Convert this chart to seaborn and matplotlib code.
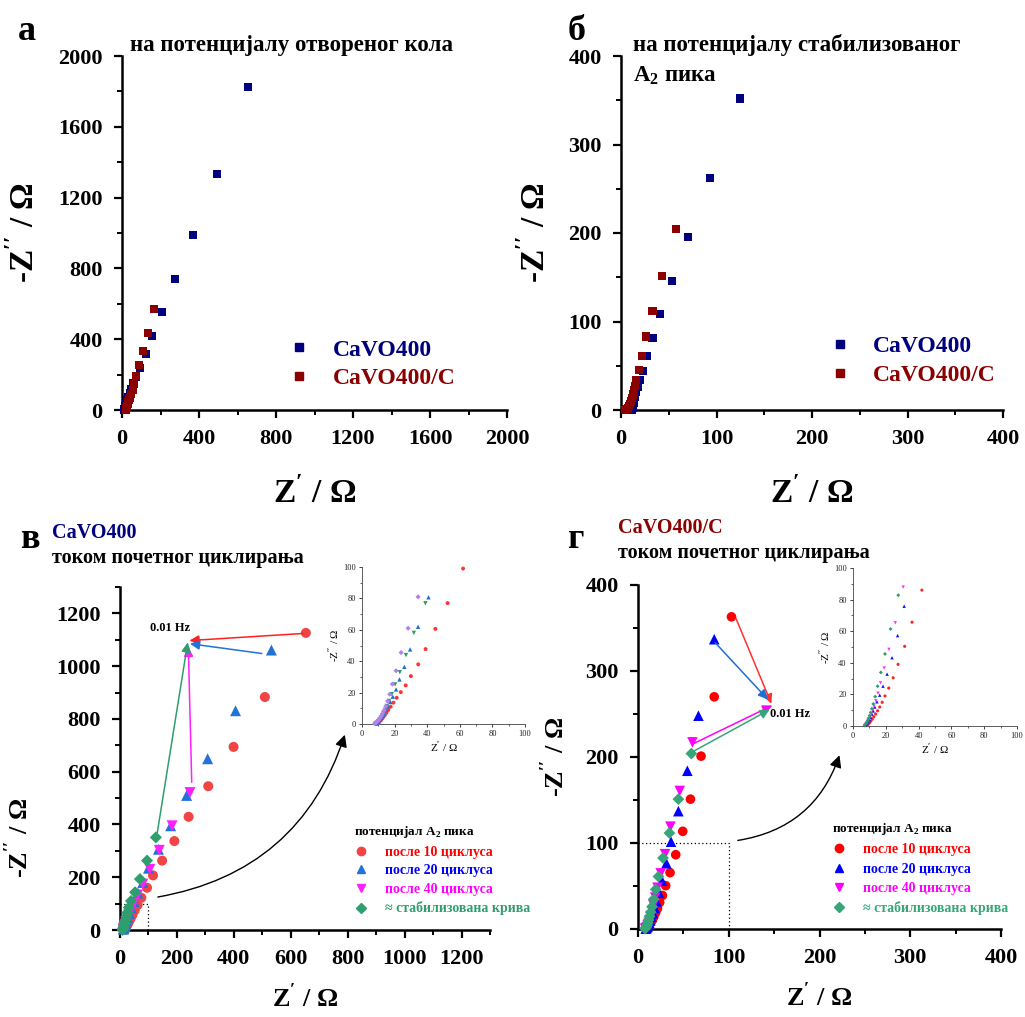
import numpy as np
import pandas as pd
import matplotlib
matplotlib.use("Agg")
import matplotlib.pyplot as plt
from matplotlib.lines import Line2D
from matplotlib.ticker import MultipleLocator
import seaborn as sns

# ---------------- data ----------------
# (a) open-circuit potential
a_cavo_x = [656, 492, 370, 277, 208, 158, 123, 94, 73, 58, 48, 40, 33, 28, 24, 21, 18, 16, 14, 13, 12, 11]
a_cavo_y = [1823, 1335, 990, 742, 554, 420, 318, 239, 188, 150, 120, 95, 75, 58, 44, 33, 24, 17, 11, 7, 4, 2]
a_cavoc_x = [168, 135, 109, 88, 74, 62, 55, 47, 41, 36, 32, 29, 26, 24, 22, 21, 20, 19]
a_cavoc_y = [571, 435, 333, 254, 192, 145, 112, 88, 70, 55, 43, 33, 25, 18, 12, 8, 5, 2]

# (b) potential of the stabilised A2 peak
b_cavo_x = [125, 93, 70, 53, 41, 33, 27, 23, 19.5, 17.5, 16, 15, 14, 13.3, 12.8, 12.3, 12, 11.7, 11.5]
b_cavo_y = [352, 262, 195, 146, 108, 81, 61, 44, 33.5, 26, 20, 15, 11, 8, 5.5, 3.5, 2, 1, 0.4]
b_cavoc_x = [58, 43, 33, 26.5, 21.6, 18.5, 15.7, 14.5, 13.5, 12.5, 11.5, 10.5, 9.5, 8.5, 7.5, 6, 4.5]
b_cavoc_y = [204.5, 151, 111.5, 83, 61, 45, 33.5, 27, 22, 17.5, 13.5, 10, 7, 4.5, 2.5, 1, 0.3]

# (c) CaVO400 during initial cycling
c10_x = [653, 509, 399, 310, 241, 191, 148, 116, 95, 75, 62, 52, 44, 38, 33, 29, 26, 23, 21, 19, 18]
c10_y = [1126, 883, 694, 545, 429, 337, 263, 207, 160, 122, 95, 75, 58, 45, 35, 27, 20, 14, 9, 5, 2]
c20_x = [532, 406, 308, 234, 178, 135, 100, 80, 63, 50, 40, 33, 27, 23, 20, 17, 15, 13, 12]
c20_y = [1061, 831, 649, 510, 395, 306, 234, 180, 140, 108, 83, 63, 47, 35, 25, 17, 11, 6, 3]
c40_x = [246, 183, 138, 105, 80, 62, 48, 38, 31, 26, 22, 19, 16, 14, 12, 11]
c40_y = [521, 395, 302, 230, 174, 133, 100, 76, 58, 44, 32, 23, 15, 9, 5, 2]
cst_x = [126, 95, 70, 53, 38.6, 31, 26, 22, 19, 17, 15, 13.5, 12, 11, 10, 9]
cst_y = [351, 263, 193, 143, 110, 85, 66, 50, 37, 27, 19, 13, 8, 4, 2, 1]
c_hz = (238, 1095)

# (c) inset, first 100 ohm
ci10_x = [62, 52.5, 45, 39, 34.5, 30, 26.8, 23.8, 21.3, 19.3, 17.6, 16.2, 15, 14, 13, 12.1, 11.3, 10.5, 9.7, 9]
ci10_y = [99, 77, 60.6, 47.7, 38, 30.5, 24.6, 20.3, 16.7, 13.6, 11, 9, 7.2, 5.7, 4.4, 3.2, 2.2, 1.4, 0.8, 0.3]
ci20_x = [40.8, 34.4, 29.5, 26, 23, 20.9, 18.9, 17.4, 16, 14.9, 13.9, 13, 12.1, 11.3, 10.5, 9.7, 9]
ci20_y = [80.7, 61.9, 47.5, 36.4, 28.4, 22, 17.4, 14, 11.3, 9, 7, 5.3, 3.9, 2.7, 1.7, 0.9, 0.3]
ci40_x = [38.9, 31.8, 27, 23.2, 20.3, 18.2, 16.5, 15.2, 14.1, 13.1, 12.2, 11.4, 10.6, 9.8, 9, 8.3]
ci40_y = [76.9, 58, 43.9, 33, 25.2, 19, 14.7, 11.5, 9, 7, 5.3, 3.9, 2.7, 1.7, 0.9, 0.3]
cist_x = [34.4, 28.3, 24, 20.9, 18.6, 17, 15.7, 14.6, 13.7, 12.8, 11.9, 11, 10.2, 9.4, 8.6, 7.8]
cist_y = [81, 61, 45.5, 33.9, 25.4, 19, 14.6, 11.3, 8.8, 6.8, 5.1, 3.7, 2.5, 1.5, 0.8, 0.3]

# (d) CaVO400/C during initial cycling
d10_x = [103, 84, 69.5, 57.8, 49.3, 41.6, 35.3, 30.5, 26.9, 23.9, 21.5, 19.5, 17.5, 16, 14.5, 13, 12, 11, 10]
d10_y = [363, 270, 201, 151, 113.6, 86.4, 65.5, 50.4, 39, 31, 24, 19, 14.5, 11, 8, 5.5, 3.5, 2, 1]
d20_x = [84, 66.6, 54.4, 44.5, 36.4, 31.3, 26.5, 23.2, 20.5, 18.5, 16.5, 15, 13.5, 12.5, 11.5, 10.5, 9.5, 8.5]
d20_y = [337, 248, 184, 137, 101.5, 76.4, 56.2, 42, 32, 24.5, 18.5, 14, 10, 7, 4.5, 2.5, 1.2, 0.4]
d40_x = [60, 46, 35.7, 29.8, 25, 21.5, 19, 17, 15.3, 14, 12.8, 11.7, 10.7, 9.7, 8.7, 7.8]
d40_y = [217, 160.5, 119, 87, 64.7, 48, 36.5, 27.5, 20.5, 15, 10.5, 7, 4.2, 2.2, 1, 0.3]
dst_x = [58.8, 44.5, 34.6, 27.6, 22.5, 19.5, 17.2, 15.5, 14, 12.8, 11.7, 10.8, 10, 9.2, 8.5, 7.8]
dst_y = [204, 151, 111.6, 82.6, 61, 46, 34.5, 26, 19.5, 14.5, 10.5, 7, 4.5, 2.5, 1.2, 0.4]
d_hz = (147, 261)

# (d) inset, first 100 ohm
di10_x = [42, 36, 31.5, 27.5, 24.5, 21.8, 19.5, 17.8, 16.3, 15, 13.8, 12.7, 11.7, 10.8, 10, 9.2, 8.4]
di10_y = [86, 65.7, 50.4, 39, 30.5, 24, 19, 15, 12, 9.6, 7.6, 5.8, 4.3, 3, 1.9, 1, 0.3]
di20_x = [31.2, 27.2, 23.8, 20.8, 18.3, 16.3, 14.6, 13.3, 12.3, 11.5, 10.8, 10, 9.3, 8.6, 8, 7.4]
di20_y = [75.8, 57.2, 43.2, 32.8, 25.2, 19.5, 15.3, 12, 9.5, 7.5, 5.5, 4, 2.8, 1.8, 1, 0.4]
di40_x = [30.6, 25.8, 21.9, 19, 16.8, 15.2, 13.9, 12.8, 12, 11.2, 10.5, 9.8, 9.1, 8.4, 7.7, 7]
di40_y = [87.9, 65.3, 48.5, 36.7, 27.3, 20.8, 16, 12.5, 10, 7.8, 6, 4.5, 3.2, 2, 1.1, 0.4]
dist_x = [27.6, 22.9, 19.5, 17, 15, 13.5, 12.4, 11.5, 10.8, 10.1, 9.5, 8.9, 8.3, 7.7, 7.1]
dist_y = [82.8, 61.4, 45.6, 33.9, 25.2, 18.6, 14, 11, 8.5, 6.5, 4.8, 3.3, 2, 1, 0.3]

# ---------------- style ----------------
sns.set_theme(style="ticks")
plt.rcParams.update({
    "font.family": ["Liberation Serif", "DejaVu Serif"],
    "font.weight": "bold",
    "mathtext.fontset": "custom",
    "mathtext.rm": "Liberation Serif",
    "mathtext.bf": "Liberation Serif:bold",
    "axes.linewidth": 1.6,
    "xtick.direction": "out",
    "ytick.direction": "out",
    "text.color": "black",
    "axes.labelcolor": "black",
    "xtick.color": "black",
    "ytick.color": "black",
})

NAVY = "#00007f"
DRED = "#8b0000"

fig = plt.figure(figsize=(10.25, 10.17), dpi=100)
W, H = 1025.0, 1017.0


def add_axes_px(left, top, right, bottom):
    return fig.add_axes([left / W, 1 - bottom / H, (right - left) / W, (bottom - top) / H])


def style_main(ax, xmax, ymax, xmaj, ymaj):
    ax.set_xlim(0, xmax)
    ax.set_ylim(0, ymax)
    ax.xaxis.set_major_locator(MultipleLocator(xmaj))
    ax.xaxis.set_minor_locator(MultipleLocator(xmaj / 2))
    ax.yaxis.set_major_locator(MultipleLocator(ymaj))
    ax.yaxis.set_minor_locator(MultipleLocator(ymaj / 2))
    for s in ("top", "right"):
        ax.spines[s].set_visible(False)
    for s in ("left", "bottom"):
        ax.spines[s].set_linewidth(1.8)
        ax.spines[s].set_color("black")
    ax.tick_params(which="major", length=6, width=1.6, labelsize=16, colors="black", pad=8)
    ax.tick_params(which="minor", length=3.5, width=1.4, colors="black")
    for t in ax.get_xticklabels() + ax.get_yticklabels():
        t.set_fontweight("bold")


def style_inset(ax):
    ax.set_xlim(0, 100)
    ax.set_ylim(0, 100)
    ax.xaxis.set_major_locator(MultipleLocator(20))
    ax.xaxis.set_minor_locator(MultipleLocator(10))
    ax.yaxis.set_major_locator(MultipleLocator(20))
    ax.yaxis.set_minor_locator(MultipleLocator(10))
    for s in ("top", "right"):
        ax.spines[s].set_visible(False)
    for s in ("left", "bottom"):
        ax.spines[s].set_linewidth(0.6)
        ax.spines[s].set_color("#444444")
    ax.tick_params(which="major", length=2.5, width=0.6, labelsize=6, colors="#222222", pad=2)
    ax.tick_params(which="minor", length=1.5, width=0.5, colors="#222222")
    for t in ax.get_xticklabels() + ax.get_yticklabels():
        t.set_fontweight("normal")
    ax.set_xlabel("Z$'$ / Ω", fontsize=8, fontweight="normal", labelpad=1)
    ax.set_ylabel("-Z$''$ / Ω", fontsize=8, fontweight="normal", labelpad=1)
    ax.patch.set_alpha(0)


def scat(ax, x, y, marker, color, s):
    sns.scatterplot(x=x, y=y, marker=marker, color=color, s=s, linewidth=0,
                    edgecolor="none", ax=ax, legend=False, clip_on=False, zorder=3)


# ---------------- (a) ----------------
ax_a = add_axes_px(122, 56, 507, 410)
scat(ax_a, a_cavo_x, a_cavo_y, "s", NAVY, 34)
scat(ax_a, a_cavoc_x, a_cavoc_y, "s", DRED, 34)
style_main(ax_a, 2000, 2000, 400, 400)
ax_a.set_xlabel("Z$'$ / Ω", fontsize=24, fontweight="bold", labelpad=20)
ax_a.set_ylabel("-Z$''$ / Ω", fontsize=24, fontweight="bold", labelpad=12)
ha = [Line2D([], [], ls="none", marker="s", ms=6, color=NAVY),
      Line2D([], [], ls="none", marker="s", ms=6, color=DRED)]
ax_a.legend(ha, ["CaVO400", "CaVO400/C"], loc="upper left", bbox_to_anchor=(0.375, 0.26),
            frameon=False, prop=dict(size=17, weight="bold"), labelcolor=[NAVY, DRED],
            handletextpad=0.9, labelspacing=0.3, handlelength=1.0)
fig.text(18 / W, 1 - 32 / H, "а", fontsize=26, fontweight="bold", va="center", ha="left")
fig.text(130 / W, 1 - 45 / H, "на потенцијалу отвореног кола", fontsize=16.5,
         fontweight="bold", va="center", ha="left")

# ---------------- (b) ----------------
ax_b = add_axes_px(621, 56, 1003, 410)
scat(ax_b, b_cavo_x, b_cavo_y, "s", NAVY, 34)
scat(ax_b, b_cavoc_x, b_cavoc_y, "s", DRED, 34)
style_main(ax_b, 400, 400, 100, 100)
ax_b.set_xlabel("Z$'$ / Ω", fontsize=24, fontweight="bold", labelpad=20)
ax_b.set_ylabel("-Z$''$ / Ω", fontsize=24, fontweight="bold", labelpad=12)
ax_b.legend(ha, ["CaVO400", "CaVO400/C"], loc="upper left", bbox_to_anchor=(0.487, 0.27),
            frameon=False, prop=dict(size=17, weight="bold"), labelcolor=[NAVY, DRED],
            handletextpad=0.9, labelspacing=0.3, handlelength=1.0)
fig.text(568 / W, 1 - 32 / H, "б", fontsize=26, fontweight="bold", va="center", ha="left")
fig.text(633 / W, 1 - 45 / H, "на потенцијалу стабилизованог", fontsize=16.5,
         fontweight="bold", va="center", ha="left")
fig.text(633 / W, 1 - 76 / H, "A$_\\mathbf{2}$ пика", fontsize=16.5,
         fontweight="bold", va="center", ha="left")

# ---------------- (c) ----------------
C10, C20, C40, CST = "#f04545", "#2272d8", "#ff20ff", "#2e9e6e"
ax_c = add_axes_px(120, 587, 490, 930)
scat(ax_c, c10_x, c10_y, "o", C10, 52)
scat(ax_c, c20_x, c20_y, "^", C20, 62)
scat(ax_c, c40_x, c40_y, "v", C40, 62)
scat(ax_c, cst_x, cst_y, "D", CST, 38)
style_main(ax_c, 1300, 1300, 200, 200)
ax_c.set_xlabel("Z$'$ / Ω", fontsize=19, fontweight="bold", labelpad=10)
ax_c.set_ylabel("-Z$''$ / Ω", fontsize=19, fontweight="bold", labelpad=12)
ax_c.yaxis.set_label_coords(-0.235, 0.27)
for (x0, y0), (x1, y1), col in [((645, 1124), (c_hz[0] + 6, c_hz[1] + 2), "#ff2020"),
                                ((498, 1048), (c_hz[0] + 8, c_hz[1] - 10), C20),
                                ((252, 560), (c_hz[0] + 2, c_hz[1] - 22), C40),
                                ((131, 369), (c_hz[0], c_hz[1] - 5), CST)]:
    ax_c.annotate("", xy=(x1, y1), xytext=(x0, y0),
                  arrowprops=dict(arrowstyle="-|>", color=col, lw=1.1, mutation_scale=14,
                                  shrinkA=0, shrinkB=0))
ax_c.text(176, 1145, "0.01 Hz", fontsize=9, fontweight="bold", ha="center", va="center")
ax_c.plot([0, 100, 100], [100, 100, 0], ls=(0, (1, 2)), color="black", lw=0.9)
ax_c.annotate("", xy=(790, 740), xytext=(133, 125),
              arrowprops=dict(arrowstyle="-|>", color="black", lw=1.0, mutation_scale=18,
                              connectionstyle="arc3,rad=0.3", shrinkA=0, shrinkB=0))
hc = [Line2D([], [], ls="none", marker="o", ms=6, color=C10),
      Line2D([], [], ls="none", marker="^", ms=6, color=C20),
      Line2D([], [], ls="none", marker="v", ms=6, color=C40),
      Line2D([], [], ls="none", marker="D", ms=5, color=CST)]
leg = ax_c.legend(hc, ["после 10 циклуса", "после 20 циклуса", "после 40 циклуса",
                       "≈ стабилизована крива"],
                  title="потенцијал A$_\\mathbf{2}$ пика", loc="upper left",
                  bbox_to_anchor=(0.6, 0.345), frameon=False,
                  prop=dict(size=10, weight="bold"),
                  labelcolor=["#ff0000", "#0000ff", "#ff00ff", CST],
                  title_fontproperties=dict(size=9.5, weight="bold"),
                  handletextpad=1.2, labelspacing=0.4, handlelength=1.0)
leg._legend_box.align = "left"
fig.text(20 / W, 1 - 540 / H, "в", fontsize=26, fontweight="bold", va="center", ha="left")
fig.text(52 / W, 1 - 533 / H, "CaVO400", fontsize=14.5, fontweight="bold", color=NAVY,
         va="center", ha="left")
fig.text(52 / W, 1 - 558 / H, "током почетног циклирања", fontsize=14.5, fontweight="bold",
         va="center", ha="left")

# inset (c)
ax_ci = add_axes_px(362, 567, 525, 724)
scat(ax_ci, ci10_x, ci10_y, "o", "#ff3333", 8)
scat(ax_ci, ci20_x, ci20_y, "^", "#1f6fd0", 10)
scat(ax_ci, ci40_x, ci40_y, "v", "#2e9e5e", 10)
scat(ax_ci, cist_x, cist_y, "D", "#b57ff0", 7)
style_inset(ax_ci)

# ---------------- (d) ----------------
D10, D20, D40, DST = "#ff0000", "#0000ff", "#ff00ff", "#36a679"
ax_d = add_axes_px(638, 585, 1001, 929)
scat(ax_d, d10_x, d10_y, "o", D10, 48)
scat(ax_d, d20_x, d20_y, "^", D20, 58)
scat(ax_d, d40_x, d40_y, "v", D40, 58)
scat(ax_d, dst_x, dst_y, "D", DST, 36)
style_main(ax_d, 400, 400, 100, 100)
ax_d.set_xlabel("Z$'$ / Ω", fontsize=19, fontweight="bold", labelpad=10)
ax_d.set_ylabel("-Z$''$ / Ω", fontsize=19, fontweight="bold", labelpad=12)
for (x0, y0), (x1, y1), col in [((108, 361), (d_hz[0], d_hz[1] + 1), "#ff3030"),
                                ((85, 333), (d_hz[0] - 4, d_hz[1] + 6), "#1f6fd0"),
                                ((62, 216), (d_hz[0] + 1, d_hz[1] - 1), D40),
                                ((60, 206), (d_hz[0] - 2, d_hz[1] - 6), DST)]:
    ax_d.annotate("", xy=(x1, y1), xytext=(x0, y0),
                  arrowprops=dict(arrowstyle="-|>", color=col, lw=1.1, mutation_scale=14,
                                  shrinkA=0, shrinkB=0))
ax_d.text(145, 250, "0.01 Hz", fontsize=9, fontweight="bold", ha="left", va="center")
ax_d.plot([0, 100, 100], [100, 100, 0], ls=(0, (1, 2)), color="black", lw=0.9)
ax_d.annotate("", xy=(222, 202), xytext=(110, 103),
              arrowprops=dict(arrowstyle="-|>", color="black", lw=1.0, mutation_scale=18,
                              connectionstyle="arc3,rad=0.3", shrinkA=0, shrinkB=0))
hd = [Line2D([], [], ls="none", marker="o", ms=6, color=D10),
      Line2D([], [], ls="none", marker="^", ms=6, color=D20),
      Line2D([], [], ls="none", marker="v", ms=6, color=D40),
      Line2D([], [], ls="none", marker="D", ms=5, color=DST)]
leg = ax_d.legend(hd, ["после 10 циклуса", "после 20 циклуса", "после 40 циклуса",
                       "≈ стабилизована крива"],
                  title="потенцијал A$_\\mathbf{2}$ пика", loc="upper left",
                  bbox_to_anchor=(0.5, 0.35), frameon=False,
                  prop=dict(size=10, weight="bold"),
                  labelcolor=["#ff0000", "#0000ff", "#ff00ff", DST],
                  title_fontproperties=dict(size=9.5, weight="bold"),
                  handletextpad=1.2, labelspacing=0.45, handlelength=1.0)
leg._legend_box.align = "left"
fig.text(568 / W, 1 - 540 / H, "г", fontsize=26, fontweight="bold", va="center", ha="left")
fig.text(618 / W, 1 - 528 / H, "CaVO400/C", fontsize=14.5, fontweight="bold", color=DRED,
         va="center", ha="left")
fig.text(618 / W, 1 - 553 / H, "током почетног циклирања", fontsize=14.5, fontweight="bold",
         va="center", ha="left")

# inset (d)
ax_di = add_axes_px(853, 568, 1017, 726)
scat(ax_di, di10_x, di10_y, "o", "#ff2020", 5)
scat(ax_di, di20_x, di20_y, "^", "#1010ff", 6)
scat(ax_di, di40_x, di40_y, "v", "#ff30ff", 6)
scat(ax_di, dist_x, dist_y, "D", "#2e9e6e", 4)
style_inset(ax_di)

fig.savefig("out.png", dpi=100)
